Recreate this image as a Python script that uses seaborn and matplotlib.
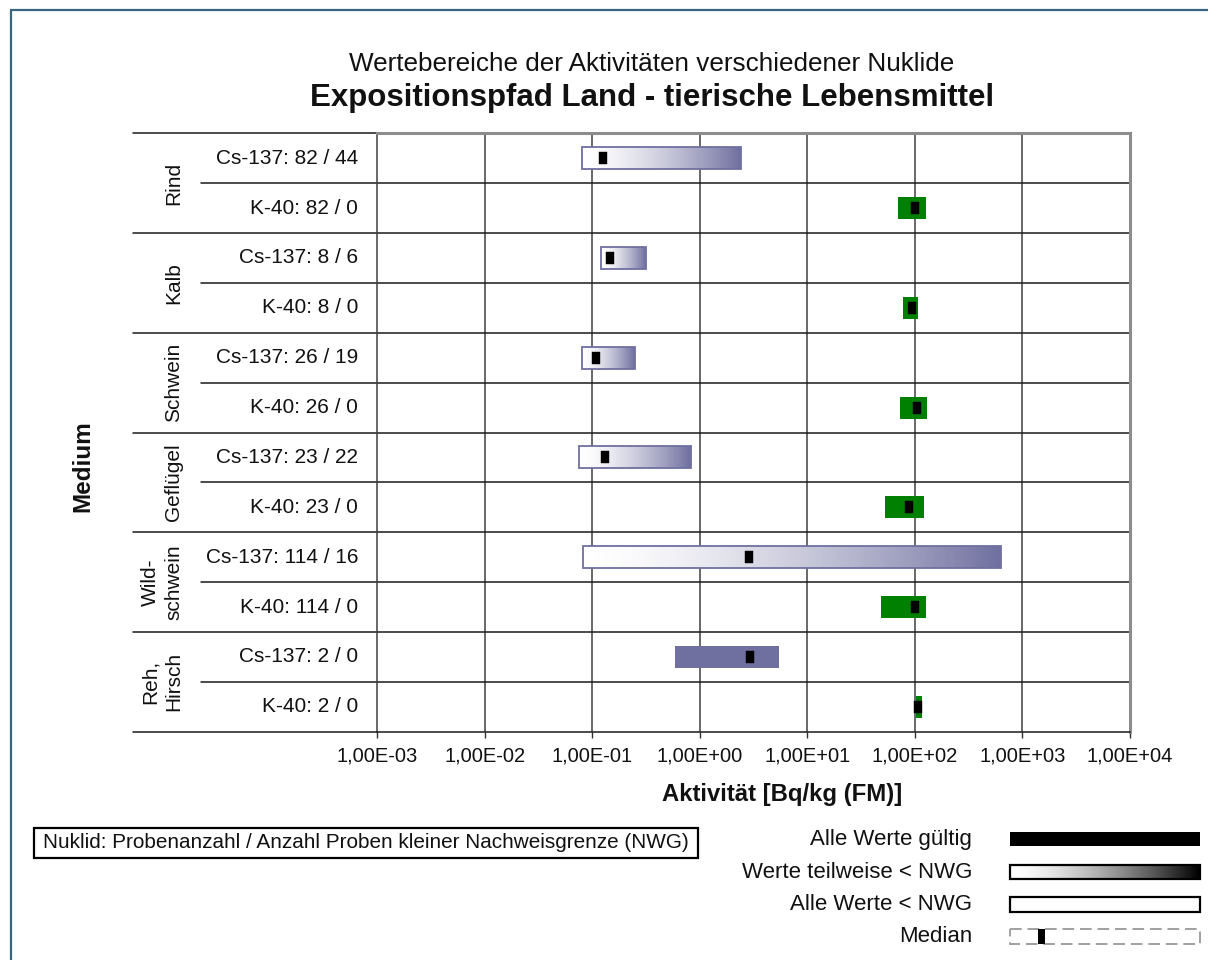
import numpy as np
import pandas as pd
import matplotlib
matplotlib.use("Agg")
import matplotlib.pyplot as plt
import matplotlib.transforms as mtransforms
from matplotlib.path import Path
from matplotlib.patches import Rectangle
from matplotlib.ticker import NullLocator
from matplotlib import font_manager
import seaborn as sns

# ---- values (Bq/kg FM) ----
media = ["Rind", "Kalb", "Schwein", "Geflügel", "Wild-\nschwein", "Reh,\nHirsch"]
nuclides = ["Cs-137", "K-40"]
n_samples = [82, 8, 26, 23, 114, 2]
cs_below = [44, 6, 19, 22, 16, 0]
k_below = [0, 0, 0, 0, 0, 0]
cs_min = [0.080, 0.122, 0.080, 0.076, 0.083, 0.59]
cs_max = [2.44, 0.315, 0.249, 0.825, 632, 5.42]
cs_median = [0.126, 0.146, 0.108, 0.131, 2.87, 2.95]
k_min = [69.5, 77.3, 73, 53, 48.7, 103]
k_max = [125.6, 108, 130, 122.7, 125.6, 116.6]
k_median = [100, 95, 105, 89, 100, 107]
decades = [1e-3, 1e-2, 1e-1, 1e0, 1e1, 1e2, 1e3, 1e4]

nuclide_colors = {"Cs-137": "#7070a0", "K-40": "#008000"}

rows = []
for i, m in enumerate(media):
    rows.append(dict(medium=m, nuclide="Cs-137", n=n_samples[i], below=cs_below[i],
                     vmin=cs_min[i], vmax=cs_max[i], median=cs_median[i]))
    rows.append(dict(medium=m, nuclide="K-40", n=n_samples[i], below=k_below[i],
                     vmin=k_min[i], vmax=k_max[i], median=k_median[i]))
df = pd.DataFrame(rows)
df["pos"] = np.arange(len(df))
df["label"] = df["nuclide"] + ": " + df["n"].astype(str) + " / " + df["below"].astype(str)

sns.set_theme(style="white")
plt.rcParams["font.family"] = ["Liberation Sans", "DejaVu Sans"]

W, H = 1208, 960
fig = plt.figure(figsize=(W / 100, H / 100), dpi=100)
fig.patch.set_facecolor("white")

AX_L, AX_R, AX_T, AX_B = 377, 1130, 133.3, 731.7
ax = fig.add_axes([AX_L / W, 1 - AX_B / H, (AX_R - AX_L) / W, (AX_B - AX_T) / H])
ax.set_xscale("log")


def frac(xpx):
    return (xpx - AX_L) / (AX_R - AX_L)


bar_h = 0.44
for r in df.itertuples():
    col = nuclide_colors[r.nuclide]
    if r.below == 0:
        ax.barh(r.pos, r.vmax - r.vmin, left=r.vmin, height=bar_h, color=col,
                linewidth=0, zorder=2)
    else:
        if r.below < r.n:
            edges = np.logspace(np.log10(r.vmin), np.log10(r.vmax), 160)
            t = np.linspace(0, 1, len(edges) - 1) ** 1.5
            base = np.array(matplotlib.colors.to_rgb(col))
            cols = [tuple(1 - tt * (1 - base)) for tt in t]
            ax.barh([r.pos] * (len(edges) - 1), np.diff(edges) * 1.02, left=edges[:-1],
                    height=bar_h, color=cols, linewidth=0, zorder=2)
        else:
            ax.barh(r.pos, r.vmax - r.vmin, left=r.vmin, height=bar_h, color="white",
                    linewidth=0, zorder=2)
        ax.barh(r.pos, r.vmax - r.vmin, left=r.vmin, height=bar_h, fill=False,
                edgecolor=col, linewidth=1.3, zorder=3)

median_marker = Path([(-0.34, -0.5), (0.34, -0.5), (0.34, 0.5), (-0.34, 0.5), (-0.34, -0.5)],
                     [Path.MOVETO, Path.LINETO, Path.LINETO, Path.LINETO, Path.CLOSEPOLY])
sns.scatterplot(data=df, x="median", y="pos", marker=median_marker, s=64, color="black",
                edgecolor="black", linewidth=0.3, ax=ax, legend=False, zorder=5)

ax.set_xlim(decades[0], decades[-1])
ax.set_ylim(len(df) - 0.5, -0.5)
ax.set_xlabel("")
ax.set_ylabel("")
ax.set_yticks([])
ax.set_xticks(decades)
ax.set_xticklabels([f"{d:.2E}".replace(".", ",") for d in decades], fontsize=14.5,
                   color="#111111")
ax.xaxis.set_minor_locator(NullLocator())
ax.tick_params(axis="x", direction="out", length=4.3, width=1, color="#303030", pad=6,
               bottom=True)

for d in decades[1:-1]:
    ax.axvline(d, color="#404040", lw=1.1, zorder=0.5)
for b in np.arange(0.5, len(df) - 1, 1):
    ax.axhline(b, color="#1a1a1a", lw=1.1, zorder=0.5)

for s in ["top", "right"]:
    ax.spines[s].set_color("#8c8c8c")
    ax.spines[s].set_linewidth(2.2)
ax.spines["left"].set_color("#404040")
ax.spines["left"].set_linewidth(1.1)
ax.spines["bottom"].set_color("#1a1a1a")
ax.spines["bottom"].set_linewidth(1.1)

# left table: row labels and medium groups
trans = mtransforms.blended_transform_factory(ax.transAxes, ax.transData)
for b in np.arange(-0.5, len(df), 2):
    ax.plot([frac(133), 0], [b, b], color="#1a1a1a", lw=1.1, transform=trans, clip_on=False)
for b in np.arange(0.5, len(df), 2):
    ax.plot([frac(201), 0], [b, b], color="#1a1a1a", lw=1.1, transform=trans, clip_on=False)

for r in df.itertuples():
    ax.text(frac(358), r.pos, r.label, transform=trans, ha="right", va="center",
            fontsize=15, color="#111111")
for i, m in enumerate(media):
    ax.text(frac(183), 2 * i + 0.5, m, transform=trans, rotation=90, ha="right",
            va="center", fontsize=15, linespacing=1.3, multialignment="center",
            color="#111111")

# titles and axis labels
fig.text(652 / W, 1 - 64 / H, "Wertebereiche der Aktivitäten verschiedener Nuklide",
         ha="center", va="center", fontsize=18.8, color="#111111")
fig.text(652 / W, 1 - 98 / H, "Expositionspfad Land - tierische Lebensmittel",
         ha="center", va="center", fontsize=22.5, fontweight="bold", color="#111111")
fig.text(782 / W, 1 - 795 / H, "Aktivität [Bq/kg (FM)]", ha="center", va="center",
         fontsize=17.2, fontweight="bold", color="#111111")
fig.text(83 / W, 1 - 466 / H, "Medium", ha="center", va="center", rotation=90,
         fontsize=17.5, fontweight="bold", color="#111111")

# overlay in pixel coordinates: frame, note box, legend
ov = fig.add_axes([0, 0, 1, 1], zorder=10)
ov.set_xlim(0, W)
ov.set_ylim(H, 0)
ov.axis("off")

ov.plot([10.5, 10.5, W], [H, 9.5, 9.5], color="#3a6580", lw=1.6, solid_joinstyle="miter")

ov.add_patch(Rectangle((34, 828), 664, 30, fill=False, edgecolor="black", lw=1.6))
names = {f.name for f in font_manager.fontManager.ttflist}
note_family = ["Liberation Sans Narrow"] if "Liberation Sans Narrow" in names else ["Liberation Sans"]
note = ov.text(366, 843, "Nuklid: Probenanzahl / Anzahl Proben kleiner Nachweisgrenze (NWG)",
               ha="center", va="center", fontsize=15.5, family=note_family, color="#111111")
renderer = fig.canvas.get_renderer()
wpx = note.get_window_extent(renderer).width
if wpx > 648:
    note.set_fontsize(15.5 * 644 / wpx)

leg_labels = ["Alle Werte gültig", "Werte teilweise < NWG", "Alle Werte < NWG", "Median"]
leg_y = [839, 872, 904.5, 936.5]
gx0, gx1, gh = 1010, 1200, 14.5
for lab, yc in zip(leg_labels, leg_y):
    ov.text(972, yc, lab, ha="right", va="center", fontsize=16, color="#111111")

ov.add_patch(Rectangle((gx0, leg_y[0] - gh / 2), gx1 - gx0, gh, color="black", lw=0))
grad = 1 - np.linspace(0, 1, 256) ** 1.5
grad_img = np.repeat(np.dstack([grad, grad, grad]), 2, axis=0)
ov.imshow(grad_img, extent=(gx0, gx1, leg_y[1] + gh / 2, leg_y[1] - gh / 2), aspect="auto",
          interpolation="bilinear", zorder=2)
ov.add_patch(Rectangle((gx0, leg_y[1] - gh / 2), gx1 - gx0, gh, fill=False,
                       edgecolor="black", lw=1.6, zorder=3))
ov.add_patch(Rectangle((gx0, leg_y[2] - gh / 2), gx1 - gx0, gh, fill=False,
                       edgecolor="black", lw=1.6, zorder=3))
ov.add_patch(Rectangle((gx0, leg_y[3] - gh / 2), gx1 - gx0, gh, fill=False,
                       edgecolor="#a0a0a0", lw=1.4, linestyle=(0, (6, 3)), zorder=3))
ov.add_patch(Rectangle((1038, leg_y[3] - gh / 2), 7, gh, color="black", lw=0, zorder=4))
ov.set_xlim(0, W)
ov.set_ylim(H, 0)

fig.savefig("out.png", dpi=100, facecolor="white")
